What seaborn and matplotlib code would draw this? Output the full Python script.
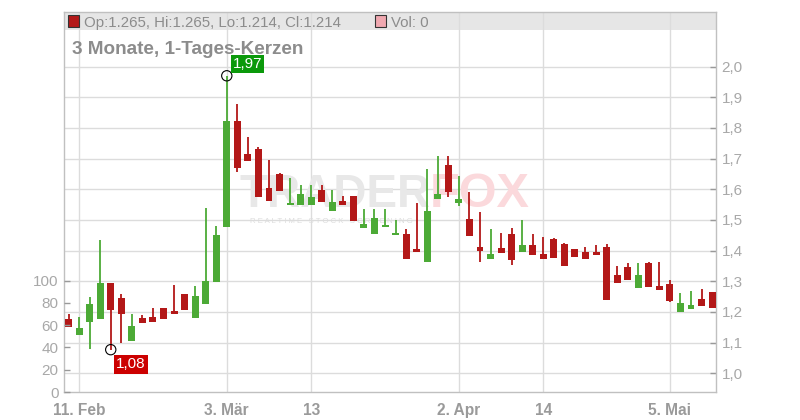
import matplotlib
matplotlib.use("Agg")
import matplotlib.pyplot as plt
from matplotlib.patches import Rectangle
from matplotlib.ticker import FuncFormatter
import numpy as np
import pandas as pd
import seaborn as sns

# ----------------------------------------
# Data (daily candles, 10. Feb - 9. Mai)
# ----------------------------------------
opens = [1.177, 1.125, 1.168, 1.178, 1.294, 1.246, 1.106, 1.180, 1.184, 1.213,
         1.203, 1.259, 1.181, 1.227, 1.299, 1.478, 1.823, 1.715, 1.731, 1.604,
         1.650, 1.550, 1.550, 1.550, 1.598, 1.530, 1.562, 1.578, 1.475, 1.455,
         1.476, 1.452, 1.454, 1.405, 1.364, 1.569, 1.679, 1.556, 1.503, 1.412,
         1.374, 1.409, 1.454, 1.397, 1.418, 1.389, 1.438, 1.422, 1.405, 1.396,
         1.396, 1.413, 1.321, 1.347, 1.279, 1.360, 1.285, 1.291, 1.201, 1.211,
         1.242, 1.265]
highs = [1.194, 1.184, 1.249, 1.435, 1.294, 1.258, 1.194, 1.189, 1.213, 1.213,
         1.288, 1.259, 1.285, 1.539, 1.480, 1.970, 1.878, 1.770, 1.737, 1.696,
         1.654, 1.638, 1.614, 1.614, 1.614, 1.598, 1.578, 1.578, 1.536, 1.536,
         1.536, 1.500, 1.471, 1.555, 1.666, 1.709, 1.709, 1.643, 1.591, 1.525,
         1.471, 1.458, 1.474, 1.500, 1.454, 1.444, 1.441, 1.425, 1.405, 1.413,
         1.418, 1.422, 1.350, 1.360, 1.360, 1.363, 1.363, 1.304, 1.262, 1.268,
         1.275, 1.265]
lows = [1.152, 1.125, 1.079, 1.178, 1.077, 1.100, 1.106, 1.165, 1.168, 1.178,
        1.194, 1.207, 1.181, 1.227, 1.299, 1.478, 1.657, 1.693, 1.576, 1.563,
        1.595, 1.550, 1.550, 1.550, 1.560, 1.530, 1.550, 1.498, 1.475, 1.455,
        1.476, 1.452, 1.374, 1.397, 1.364, 1.569, 1.576, 1.546, 1.449, 1.364,
        1.374, 1.393, 1.354, 1.397, 1.387, 1.374, 1.377, 1.351, 1.380, 1.374,
        1.387, 1.239, 1.295, 1.304, 1.279, 1.282, 1.273, 1.233, 1.201, 1.211,
        1.220, 1.214]
closes = [1.152, 1.149, 1.226, 1.294, 1.207, 1.194, 1.154, 1.165, 1.168, 1.178,
          1.194, 1.207, 1.252, 1.301, 1.451, 1.823, 1.670, 1.693, 1.576, 1.563,
          1.595, 1.553, 1.586, 1.575, 1.560, 1.559, 1.550, 1.498, 1.487, 1.506,
          1.484, 1.455, 1.374, 1.397, 1.529, 1.585, 1.592, 1.568, 1.449, 1.400,
          1.389, 1.393, 1.370, 1.418, 1.387, 1.374, 1.377, 1.351, 1.380, 1.374,
          1.387, 1.239, 1.295, 1.304, 1.321, 1.282, 1.273, 1.237, 1.229, 1.223,
          1.220, 1.214]

date_ticks = [1, 15, 23, 37, 45, 57]
date_labels = ["11. Feb", "3. Mär", "13", "2. Apr", "14", "5. Mai"]
price_ticks = [1.0, 1.1, 1.2, 1.3, 1.4, 1.5, 1.6, 1.7, 1.8, 1.9, 2.0]
vol_ticks = [0, 20, 40, 60, 80, 100]

df = pd.DataFrame({"open": opens, "high": highs, "low": lows, "close": closes})
df["day"] = np.arange(len(df))
df["up"] = df["close"] >= df["open"]

RED = "#b31818"
GREEN = "#4caa36"
colors = np.where(df["up"], GREEN, RED)

# ----------------------------------------
# Figure
# ----------------------------------------
sns.set_style("white")
plt.rcParams["font.family"] = ["Liberation Sans", "DejaVu Sans"]

W, H = 800, 420
L, R, T, B = 64, 716, 12, 392
fig = plt.figure(figsize=(8, 4.2), dpi=100)
ax = fig.add_axes([L / W, 1 - B / H, (R - L) / W, (B - T) / H])
vax = ax.twinx()

ax.set_xlim(-0.43, 61.37)
ax.set_ylim(0.939, 2.178)
vax.set_ylim(0, 341.4)

# header band
ax.add_patch(Rectangle((0, (B - 30) / (B - T)), 1, 18 / (B - T),
                       transform=ax.transAxes, fc="#e6e6e6", ec="none", zorder=0.2))

# watermark
ax.text(240 / W, 1 - 207 / H, "TRADER", transform=fig.transFigure, fontsize=33,
        fontweight="bold", color="#e8e8e8", zorder=1)
ax.text(430 / W, 1 - 207 / H, "FOX", transform=fig.transFigure, fontsize=35,
        fontweight="bold", color="#fbd9dc", zorder=1)
ax.text(250 / W, 1 - 223 / H, "R E A L T I M E   S T O C K   S C R E E N I N G",
        transform=fig.transFigure, fontsize=5.6, color="#dddddd", zorder=1)

# candles
ax.vlines(df["day"], df["low"], df["high"], colors=colors, lw=1.3, zorder=3)
body = (df["close"] - df["open"]).abs().clip(lower=0.004)
ax.bar(df["day"], body, bottom=df[["open", "close"]].min(axis=1),
       width=0.66, color=colors, lw=0, zorder=4)

# high / low markers
hi = df.loc[df["high"].idxmax()]
lo = df.loc[df["low"].idxmin()]
marks = pd.DataFrame({"day": [hi["day"], lo["day"]], "price": [hi["high"], lo["low"]]})
sns.scatterplot(data=marks, x="day", y="price", ax=ax, s=55, facecolor="none",
                edgecolor="black", linewidth=0.8, zorder=5, legend=False)
fmt = lambda v: f"{v:.2f}".replace(".", ",")
ax.annotate(fmt(hi["high"]), xy=(hi["day"], hi["high"]), xytext=(14.8, 8.6),
            textcoords="offset points", ha="center", va="center", color="white",
            fontsize=11, zorder=6,
            bbox=dict(boxstyle="square,pad=0.12", fc="#0b990b", ec="none"))
ax.annotate(fmt(lo["low"]), xy=(lo["day"], lo["low"]), xytext=(14.4, -10.6),
            textcoords="offset points", ha="center", va="center", color="white",
            fontsize=11, zorder=6,
            bbox=dict(boxstyle="square,pad=0.14", fc="#cc0000", ec="none"))

# axes / ticks
ax.set_xticks(date_ticks)
ax.set_xticklabels(date_labels, fontweight="bold")
ax.set_yticks(price_ticks)
ax.yaxis.set_major_formatter(FuncFormatter(lambda v, p: f"{v:.1f}".replace(".", ",")))
ax.yaxis.tick_right()
vax.set_yticks(vol_ticks)
vax.yaxis.tick_left()

ax.grid(True, color="#dcdcdc", lw=1)
ax.set_axisbelow(True)

ax.tick_params(axis="y", direction="in", length=4, width=1, color="#999999",
               pad=4, labelsize=11, labelcolor="#a8a8a8")
ax.tick_params(axis="x", direction="out", length=3, width=1, color="#bbbbbb",
               pad=5, labelsize=11.2, labelcolor="#9a9a9a")
vax.tick_params(axis="y", direction="in", length=4, width=1, color="#999999",
                pad=4, labelsize=11, labelcolor="#a8a8a8")
for s in ax.spines.values():
    s.set_color("#c0c0c0")
    s.set_linewidth(1)
for s in vax.spines.values():
    s.set_visible(False)
ax.set_xlabel("")
ax.set_ylabel("")
vax.set_ylabel("")

# legend line in header
fig.add_artist(Rectangle((68 / W, 1 - 27 / H), 11 / W, 12 / H, transform=fig.transFigure,
                         fc=RED, ec="#333333", lw=0.8))
fig.text(84 / W, 1 - 27.3 / H, "Op:1.265, Hi:1.265, Lo:1.214, Cl:1.214",
         fontsize=10.8, color="#8c8c8c", va="baseline")
fig.add_artist(Rectangle((375 / W, 1 - 27 / H), 11 / W, 12 / H, transform=fig.transFigure,
                         fc="#f0a8b0", ec="#333333", lw=0.8))
fig.text(391 / W, 1 - 27.3 / H, "Vol: 0", fontsize=10.8, color="#8c8c8c", va="baseline")

fig.text(72 / W, 1 - 53.5 / H, "3 Monate, 1-Tages-Kerzen", fontsize=13.6,
         fontweight="bold", color="#8c8c8c", va="baseline")

fig.savefig("out.png", dpi=100)
